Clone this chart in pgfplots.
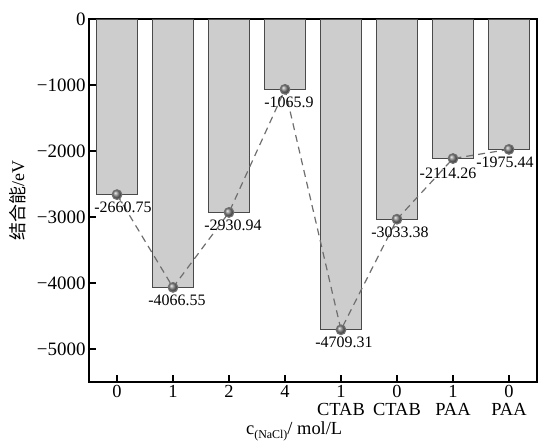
\documentclass[border=0pt]{standalone}
\usepackage{fontspec}
\setmainfont{Liberation Serif}
\newfontfamily\cjk{Noto Sans CJK SC}
\usepackage{pgfplots}
\pgfplotsset{compat=1.18}
\definecolor{barfill}{HTML}{CDCDCD}
\definecolor{baredge}{HTML}{4A4A4A}
\definecolor{dashcol}{HTML}{6E6E6E}
\begin{document}
\begin{tikzpicture}
\begin{axis}[
  at={(0,0)}, anchor=south west,
  scale only axis, width=448bp, height=363bp,
  xmin=-0.5, xmax=7.5, ymin=-5500, ymax=0,
  xtick={0,1,2,3,4,5,6,7},
  xticklabels={0,1,2,4,{1\\CTAB},{0\\CTAB},{1\\PAA},{0\\PAA}},
  xticklabel style={align=center, font=\fontsize{18.5}{18}\selectfont},
  ytick={-5000,-4000,-3000,-2000,-1000,0},
  yticklabels={−5000,−4000,−3000,−2000,−1000,0},
  yticklabel style={font=\fontsize{19}{18}\selectfont},
  tick pos=left, tick align=inside, major tick length=7bp,
  tick style={line width=1.2bp, black},
  axis line style={line width=1.3bp},
  ylabel={{\cjk 结合能}/eV},
  ylabel style={at={(axis description cs:-0.160,0.5)}, anchor=center, font=\fontsize{18}{18}\selectfont},
  xlabel={c\raisebox{-0.5ex}{\fontsize{12}{12}\selectfont(NaCl)}/ mol/L},
  xlabel style={at={(axis description cs:0.458,-0.135)}, anchor=center, font=\fontsize{18.5}{18}\selectfont},
  clip=false,
]
\addplot[ybar, bar width=0.73, fill=barfill, draw=baredge, line width=1bp]
  coordinates {(0,-2660.75) (1,-4066.55) (2,-2930.94) (3,-1065.9) (4,-4709.31) (5,-3033.38) (6,-2114.26) (7,-1975.44)};
\addplot[sharp plot, draw=dashcol, line width=1.2bp, dash pattern=on 7bp off 5bp,
  mark=ball, mark size=4.8pt, mark options={solid, ball color=gray}]
  coordinates {(0,-2660.75) (1,-4066.55) (2,-2930.94) (3,-1065.9) (4,-4709.31) (5,-3033.38) (6,-2114.26) (7,-1975.44)};
\begin{scope}[every node/.style={anchor=north, inner sep=0pt, font=\fontsize{16}{16}\selectfont}]
\node[xshift=6bp, yshift=-7bp] at (axis cs:0,-2660.75) {-2660.75};
\node[xshift=4bp, yshift=-7bp] at (axis cs:1,-4066.55) {-4066.55};
\node[xshift=4bp, yshift=-7bp] at (axis cs:2,-2930.94) {-2930.94};
\node[xshift=4bp, yshift=-7bp] at (axis cs:3,-1065.9) {-1065.9};
\node[xshift=3bp, yshift=-7bp] at (axis cs:4,-4709.31) {-4709.31};
\node[xshift=3bp, yshift=-7bp] at (axis cs:5,-3033.38) {-3033.38};
\node[xshift=-5bp, yshift=-9bp] at (axis cs:6,-2114.26) {-2114.26};
\node[xshift=-4bp, yshift=-7bp] at (axis cs:7,-1975.44) {-1975.44};
\end{scope}
\end{axis}
\pgfresetboundingbox
\path (-89bp,-62bp) rectangle (449bp,382bp);
\end{tikzpicture}
\end{document}
